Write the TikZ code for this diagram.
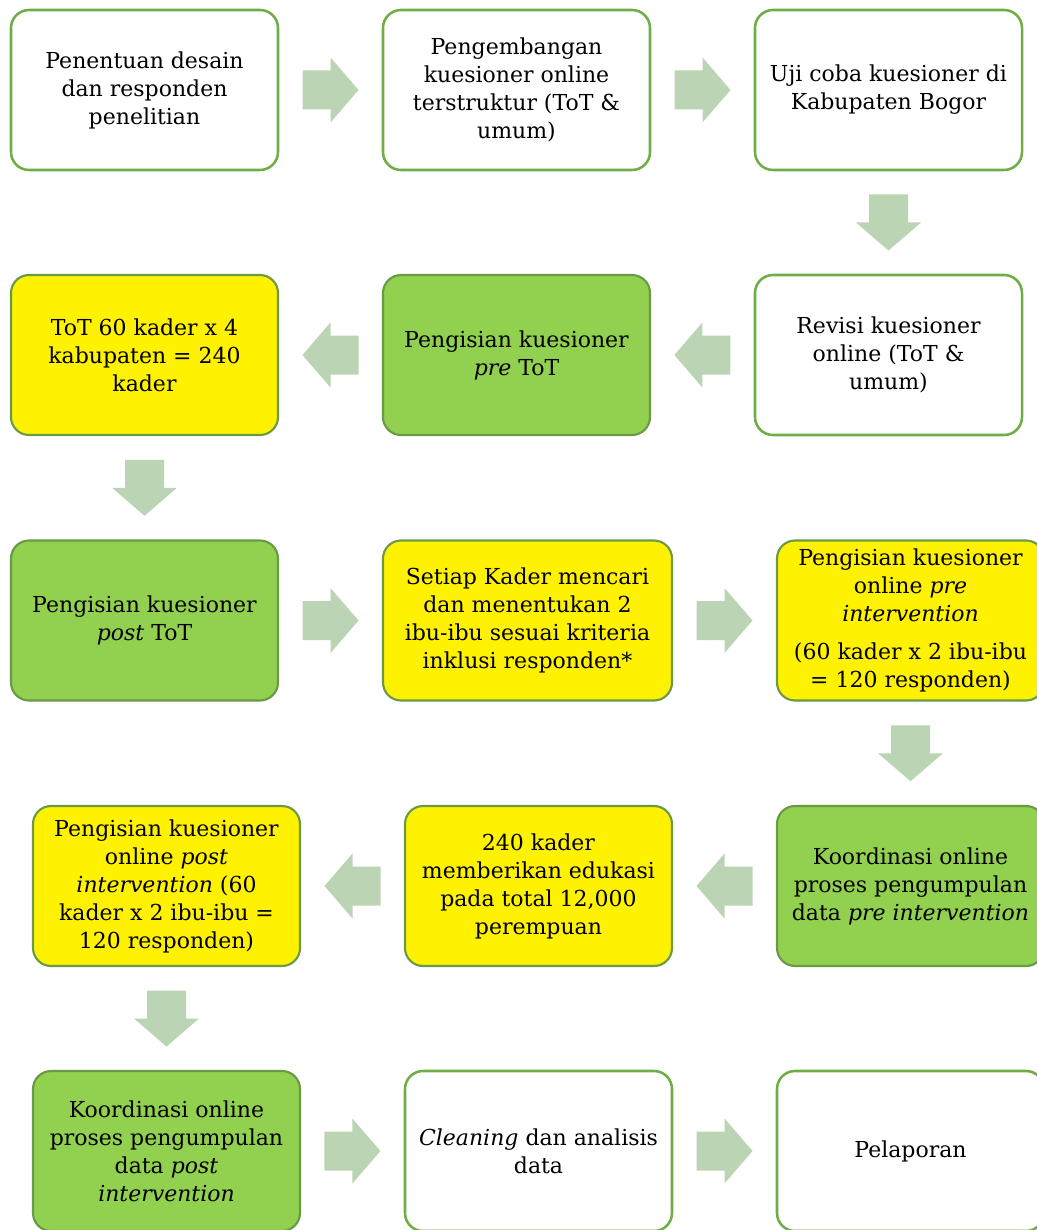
\documentclass[tikz,border=0pt]{standalone}
\usepackage{fontspec}
\setmainfont{DejaVu Serif}
\usetikzlibrary{calc}
\definecolor{bordergreen}{HTML}{70AD47}
\definecolor{darkborder}{HTML}{6A9A45}
\definecolor{fillgreen}{HTML}{92D050}
\definecolor{arrowgreen}{RGB}{187,212,180}
\begin{document}
\begin{tikzpicture}[x=0.75pt,y=-0.75pt,
  box/.style={draw=bordergreen, line width=1.9pt, rounded corners=13.5pt,
    minimum width=200.25pt, minimum height=120pt, inner sep=0pt, align=center,
    font=\fontsize{16.5}{21}\selectfont},
  whitebox/.style={box, fill=white},
  yellowbox/.style={box, fill=yellow, draw=darkborder, line width=1.6pt},
  greenbox/.style={box, fill=fillgreen, draw=darkborder, line width=1.6pt},
  barrow/.pic={\fill[arrowgreen] (-28,-19.5) -- (0,-19.5) -- (0,-32.5) -- (28,0) -- (0,32.5) -- (0,19.5) -- (-28,19.5) -- cycle;}
]
\useasboundingbox (0,0) rectangle (1037,1230);
\clip (0,0) rectangle (1037,1230);

% Row 1
\node[whitebox] (a1) at (144.5,90) {Penentuan desain\\ dan responden\\ penelitian};
\node[whitebox] (a2) at (516.5,90) {Pengembangan\\ kuesioner online\\ terstruktur (ToT \&\\ umum)};
\node[whitebox] (a3) at (888.5,90) {Uji coba kuesioner di\\ Kabupaten Bogor};
% Row 2
\node[yellowbox] (b1) at (144.5,355) {ToT 60 kader x 4\\ kabupaten = 240\\ kader};
\node[greenbox] (b2) at (516.5,355) {Pengisian kuesioner\\ \textit{pre} ToT};
\node[whitebox] (b3) at (888.5,355) {Revisi kuesioner\\ online (ToT \&\\ umum)};
% Row 3
\node[greenbox] (c1) at (144.5,620.5) {Pengisian kuesioner\\ \textit{post} ToT};
\node[yellowbox, minimum width=216.75pt] (c2) at (527.5,620.5) {Setiap Kader mencari\\ dan menentukan 2\\ ibu-ibu sesuai kriteria\\ inklusi responden*};
\node[yellowbox] (c3) at (910.5,620.5) {Pengisian kuesioner\\ online \textit{pre}\\ \textit{intervention}\\[8pt] (60 kader x 2 ibu-ibu\\ = 120 responden)};
% Row 4
\node[yellowbox] (d1) at (166.5,886) {Pengisian kuesioner\\ online \textit{post}\\ \textit{intervention} (60\\ kader x 2 ibu-ibu =\\ 120 responden)};
\node[yellowbox] (d2) at (538.5,886) {240 kader\\ memberikan edukasi\\ pada total 12,000\\ perempuan};
\node[greenbox] (d3) at (910.5,886) {Koordinasi online\\ proses pengumpulan\\ data \textit{pre intervention}};
% Row 5
\node[greenbox] (e1) at (166.5,1151) {Koordinasi online\\ proses pengumpulan\\ data \textit{post}\\ \textit{intervention}};
\node[whitebox] (e2) at (538.5,1151) {\textit{Cleaning} dan analisis\\ data};
\node[whitebox] (e3) at (910.5,1151) {Pelaporan};

% Arrows
\pic at ($(a1.east)!0.5!(a2.west)$) {barrow};
\pic at ($(a2.east)!0.5!(a3.west)$) {barrow};
\pic[rotate=-90] at ($(a3.south)!0.5!(b3.north)$) {barrow};
\pic[rotate=180] at ($(b3.west)!0.5!(b2.east)$) {barrow};
\pic[rotate=180] at ($(b2.west)!0.5!(b1.east)$) {barrow};
\pic[rotate=-90] at ($(b1.south)!0.5!(c1.north)$) {barrow};
\pic at ($(c1.east)!0.5!(c2.west)$) {barrow};
\pic at ($(c2.east)!0.5!(c3.west)$) {barrow};
\pic[rotate=-90] at ($(c3.south)!0.5!(d3.north)$) {barrow};
\pic[rotate=180] at ($(d3.west)!0.5!(d2.east)$) {barrow};
\pic[rotate=180] at ($(d2.west)!0.5!(d1.east)$) {barrow};
\pic[rotate=-90] at ($(d1.south)!0.5!(e1.north)$) {barrow};
\pic at ($(e1.east)!0.5!(e2.west)$) {barrow};
\pic at ($(e2.east)!0.5!(e3.west)$) {barrow};
\end{tikzpicture}
\end{document}
